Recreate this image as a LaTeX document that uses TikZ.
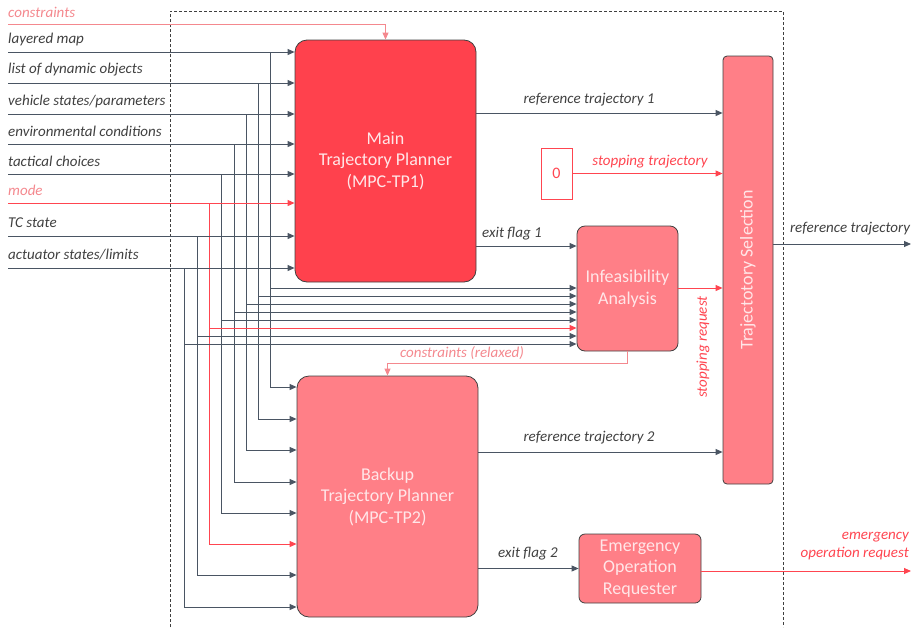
\documentclass[tikz,border=0pt]{standalone}
\usepackage{fontspec}
\setmainfont{Carlito}
\usetikzlibrary{arrows.meta}
\definecolor{lgray}{HTML}{4A5563}
\definecolor{tgray}{HTML}{404040}
\definecolor{mainred}{HTML}{FF414D}
\definecolor{boxpink}{HTML}{FF7F87}
\definecolor{lred}{HTML}{F4888E}
\definecolor{sred}{HTML}{FF4550}
\definecolor{btext}{HTML}{FFE6E8}
\tikzset{
  arr/.style={-{Triangle[length=7pt,width=6pt]}, line width=0.9pt},
  gline/.style={arr, draw=lgray},
  rline/.style={arr, draw=sred},
  lrline/.style={arr, draw=lred},
  blk/.style={draw=tgray, line width=0.8pt, text=btext, align=center, font=\fontsize{18}{21.5}\selectfont, inner sep=0pt},
  inlab/.style={anchor=west, font=\fontsize{15}{17}\selectfont\itshape, inner sep=0pt},
  lab/.style={text=tgray, font=\fontsize{15}{17}\selectfont\itshape, inner sep=0pt},
  rlab/.style={text=sred, font=\fontsize{15}{17}\selectfont\itshape, inner sep=0pt},
  lrlab/.style={text=lred, font=\fontsize{15}{17}\selectfont\itshape, inner sep=0pt},
}
\begin{document}
\begin{tikzpicture}[x=1pt,y=-1pt]
\useasboundingbox (0,0) rectangle (912,627);
% dashed frame
\draw[tgray, line width=0.7pt, dash pattern=on 3pt off 2pt] (170,627) -- (170,11) -- (783,11) -- (783,627);

% blocks
\node[blk, fill=mainred, rounded corners=12pt, minimum width=181pt, minimum height=242pt] (main) at (385.5,161) {Main\\Trajectory Planner\\(MPC-TP1)};
\node[blk, fill=boxpink, rounded corners=12pt, minimum width=181pt, minimum height=241pt] (backup) at (387.5,496.5) {Backup\\Trajectory Planner\\(MPC-TP2)};
\node[blk, fill=boxpink, rounded corners=8pt, minimum width=101pt, minimum height=125pt] (ia) at (627.5,288.5) {Infeasibility\\Analysis};
\node[draw=sred, line width=0.8pt, text=sred, font=\fontsize{16}{18}\selectfont, minimum width=31pt, minimum height=51pt, inner sep=0pt] (zero) at (556.5,173.5) {0};
\node[blk, fill=boxpink, rounded corners=4pt, minimum width=50pt, minimum height=428pt] (ts) at (748,270) {};
\node[text=btext, rotate=90, font=\fontsize{18}{21}\selectfont] (tstext) at (ts.center) {Trajectotory Selection};
\node[blk, fill=boxpink, rounded corners=6pt, minimum width=122pt, minimum height=69pt] (eor) at (640,568.5) {Emergency\\Operation\\Requester};

% constraints input
\coordinate (cin) at (8,24);
\node[inlab, text=lred] (lcons) at (8,12) {constraints};
\draw[lrline] (cin) -| (main.north);

% inputs and buses
\foreach \n/\y/\xt/\yf/\yb/\txt/\c/\lc in {
  1/52/270/288/387/{layered map}/lgray/tgray,
  2/83/258/296/419/{list of dynamic objects}/lgray/tgray,
  3/114/246/304/450/{vehicle states/parameters}/lgray/tgray,
  4/144/234/312/482/{environmental conditions}/lgray/tgray,
  5/174/221/320/513/{tactical choices}/lgray/tgray,
  6/203/209/328/544/{mode}/sred/lred,
  7/236/197/336/575/{TC state}/lgray/tgray,
  8/268/184/344/607/{actuator states/limits}/lgray/tgray}
{
  \coordinate (in\n) at (8,\y);
  \coordinate (tap\n) at (\xt,\y);
  \coordinate (fa\n) at (\xt,\yf);
  \coordinate (ba\n) at (\xt,\yb);
  \node[inlab, text=\lc] (lab\n) at (8,\y-13) {\txt};
  \draw[arr, draw=\c] (in\n) -- (main.west |- in\n);
  \draw[arr, draw=\c] (tap\n) -- (fa\n) -- (ia.west |- fa\n);
  \draw[arr, draw=\c] (fa\n) -- (ba\n) -- (backup.west |- ba\n);
}

% outputs of main
\coordinate (rt1) at (main.east |- 0,113);
\draw[gline] (rt1) -- (ts.west |- rt1);
\node[lab] (lrt1) at (589,100) {reference trajectory 1};
\coordinate (ef1) at (main.east |- 0,246);
\draw[gline] (ef1) -- (ia.west |- ef1);
\node[lab] (lef1) at (512,234) {exit flag 1};

% stopping trajectory
\draw[rline] (zero.east) -- (ts.west |- zero.east);
\node[rlab] (lst) at (650,162) {stopping trajectory};

% stopping request
\coordinate (sr) at (ia.east |- 0,288);
\draw[rline] (sr) -- (ts.west |- sr);
\node[rlab, rotate=90] (lsr) at (703,347) {stopping request};

% constraints relaxed
\coordinate (crc) at (backup.north |- 0,363);
\draw[lrline] (ia.south) |- (crc) -- (backup.north);
\node[lrlab] (lcr) at (462,353) {constraints (relaxed)};

% backup outputs
\coordinate (rt2) at (backup.east |- 0,452);
\draw[gline] (rt2) -- (ts.west |- rt2);
\node[lab] (lrt2) at (589,438) {reference trajectory 2};
\draw[gline] (backup.east |- eor.west) -- (eor.west);
\node[lab] (lef2) at (528,554) {exit flag 2};

% final outputs
\coordinate (rtout) at (911,244);
\draw[gline] (ts.east |- rtout) -- (rtout);
\node[lab] (lrto) at (850,229) {reference trajectory};
\coordinate (emout) at (911,571);
\draw[rline] (eor.east |- emout) -- (emout);
\node[rlab, align=right, anchor=east, font=\fontsize{15}{18}\selectfont\itshape] (lem) at (909,546) {emergency\\operation request};
\end{tikzpicture}
\end{document}
